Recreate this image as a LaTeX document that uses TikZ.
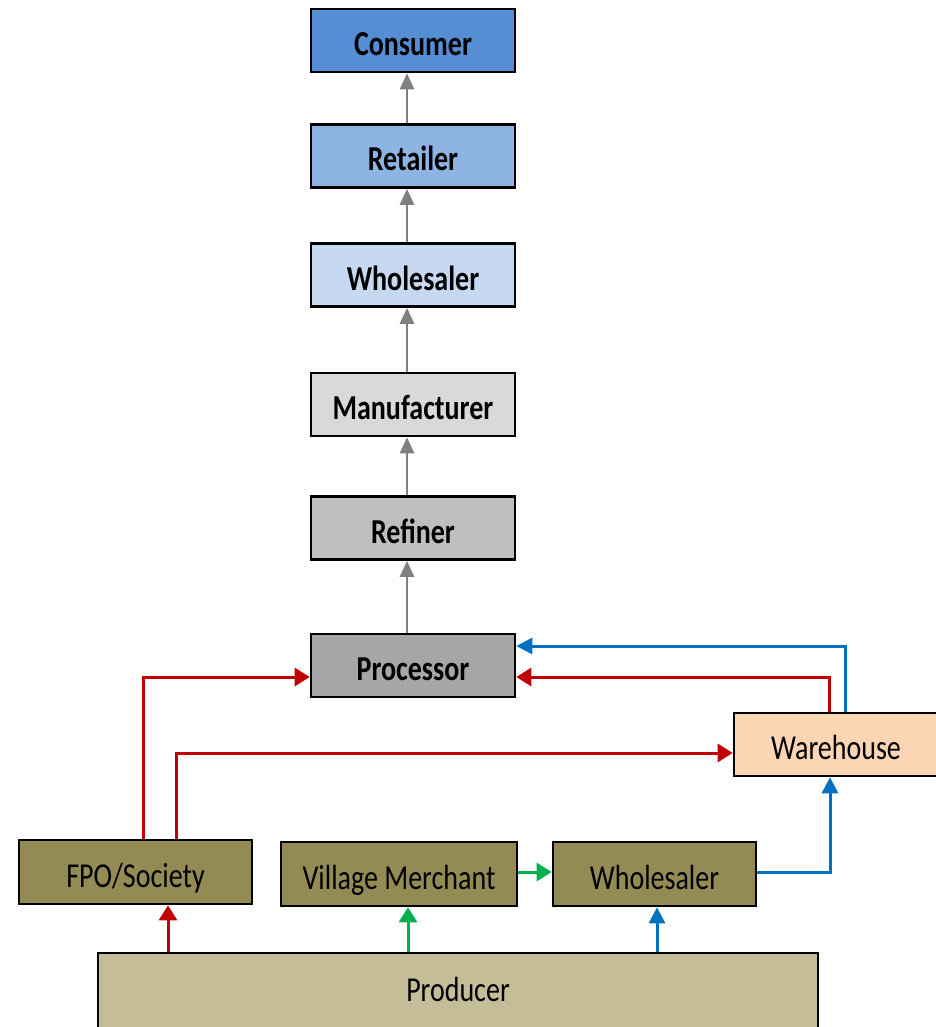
\documentclass[tikz,border=0pt]{standalone}
\usepackage{fontspec}
\setmainfont{Carlito}[FakeStretch=0.8]
\usetikzlibrary{arrows.meta,calc}
\definecolor{cConsumer}{HTML}{558ED5}
\definecolor{cRetailer}{HTML}{8EB4E3}
\definecolor{cWholeTop}{HTML}{C6D9F1}
\definecolor{cManu}{HTML}{D9D9D9}
\definecolor{cRefiner}{HTML}{BFBFBF}
\definecolor{cProc}{HTML}{A6A6A6}
\definecolor{cWare}{HTML}{FCD5B5}
\definecolor{cOlive}{HTML}{948A54}
\definecolor{cProducer}{HTML}{C4BD97}
\definecolor{cRed}{HTML}{C00000}
\definecolor{cBlue}{HTML}{0070C0}
\definecolor{cGreen}{HTML}{00B050}
\definecolor{cGray}{HTML}{808080}
\tikzset{
  box/.style={draw=black, line width=2.6pt, minimum width=204pt, minimum height=63pt, inner sep=0pt, text height=30pt, text depth=0pt, font=\fontsize{35}{40}\selectfont},
  topbox/.style={box, font=\fontsize{35}{40}\selectfont\bfseries},
  grayarr/.style={draw=cGray, line width=2.7pt, -{Triangle[length=16pt,width=14pt]}},
  redarr/.style={draw=cRed, line width=3pt, -{Triangle[length=15pt,width=18pt]}},
  bluearr/.style={draw=cBlue, line width=3pt, -{Triangle[length=16pt,width=16pt]}},
  greenarr/.style={draw=cGreen, line width=3pt, -{Triangle[length=15pt,width=18pt]}},
}
\begin{document}
\begin{tikzpicture}[x=1pt,y=-1pt]
\useasboundingbox (0,0) rectangle (936,1027);
\clip (0,0) rectangle (936,1027);
\node[topbox, fill=cConsumer] (Consumer) at (413,40.5) {Consumer};
\node[topbox, fill=cRetailer] (Retailer) at (413,156) {Retailer};
\node[topbox, fill=cWholeTop] (WholeTop) at (413,275) {Wholesaler};
\node[topbox, fill=cManu] (Manu) at (413,404.5) {Manufacturer};
\node[topbox, fill=cRefiner] (Refiner) at (413,528) {Refiner};
\node[topbox, fill=cProc] (Proc) at (413,665.5) {Processor};
\node[box, fill=cWare] (Ware) at (836,744.5) {Warehouse};
\node[box, fill=cOlive, minimum width=233pt, minimum height=64pt] (FPO) at (135.5,872) {FPO/Society};
\node[box, fill=cOlive, minimum width=236pt, minimum height=64pt] (VM) at (399,874) {Village Merchant};
\node[box, fill=cOlive, minimum width=203pt, minimum height=64pt] (WB) at (654.5,874) {Wholesaler};
\node[box, fill=cProducer, minimum width=720pt, minimum height=80pt] (Prod) at (458,993) {};
\node[font=\fontsize{35}{40}\selectfont, inner sep=0pt, text height=30pt, text depth=0pt] (ProdLabel) at (458,986) {Producer};

\draw[grayarr] ($(Retailer.north)+(-6,0)$) -- ($(Consumer.south)+(-6,0)$);
\draw[grayarr] ($(WholeTop.north)+(-6,0)$) -- ($(Retailer.south)+(-6,0)$);
\draw[grayarr] ($(Manu.north)+(-6,0)$) -- ($(WholeTop.south)+(-6,0)$);
\draw[grayarr] ($(Refiner.north)+(-6,0)$) -- ($(Manu.south)+(-6,0)$);
\draw[grayarr] ($(Proc.north)+(-6,0)$) -- ($(Refiner.south)+(-6,0)$);

\coordinate (fpoA) at ($(FPO.north)+(7.5,0)$);
\coordinate (fpoB) at ($(FPO.north)+(40.5,0)$);
\draw[redarr] (fpoA) |- ($(Proc.west)+(0,11.5)$);
\draw[redarr] (fpoB) |- ($(Ware.west)+(0,8.5)$);
\draw[redarr] ($(Ware.north)+(-7,0)$) |- ($(Proc.east)+(0,11.5)$);
\draw[bluearr] ($(Ware.north)+(9,0)$) |- ($(Proc.east)+(0,-19.5)$);

\coordinate (pF) at ($(FPO.south)+(32.5,0)$);
\coordinate (pV) at ($(VM.south)+(9,0)$);
\coordinate (pW) at ($(WB.south)+(2.5,0)$);
\draw[redarr] (Prod.north -| pF) -- (pF);
\draw[greenarr] (Prod.north -| pV) -- (pV);
\draw[bluearr] (Prod.north -| pW) -- (pW);

\coordinate (vmE) at ($(VM.east)+(0,-2)$);
\draw[greenarr] (vmE) -- (WB.west |- vmE);
\coordinate (wbE) at ($(WB.east)+(0,-2)$);
\coordinate (wareS) at ($(Ware.south)+(-6,0)$);
\draw[bluearr] (wbE) -| (wareS);
\end{tikzpicture}
\end{document}
